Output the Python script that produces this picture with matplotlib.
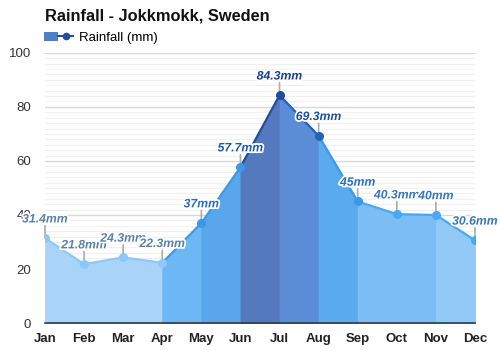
import matplotlib
matplotlib.use('Agg')
import matplotlib.pyplot as plt
import matplotlib.patheffects as pe
from matplotlib.patches import Patch
from matplotlib.lines import Line2D
from matplotlib.legend_handler import HandlerTuple
import numpy as np

# datos
meses = ['Jan', 'Feb', 'Mar', 'Apr', 'May', 'Jun', 'Jul', 'Aug', 'Sep', 'Oct', 'Nov', 'Dec']
lluvia = [31.4, 21.8, 24.3, 22.3, 37, 57.7, 84.3, 69.3, 45, 40.3, 40, 30.6]
etiquetas = ['31.4mm', '21.8mm', '24.3mm', '22.3mm', '37mm', '57.7mm', '84.3mm',
             '69.3mm', '45mm', '40.3mm', '40mm', '30.6mm']

# colores por tramo (tramo i va de mes i a mes i+1)
relleno = ['#a9d4f8', '#a9d4f8', '#a9d4f8', '#6db7f4', '#5aa6ec', '#5479be',
           '#5b8dd6', '#5aaaf0', '#7dbdf5', '#7dbdf5', '#91c9f7']
linea = ['#8cc8f8', '#8cc8f8', '#8cc8f8', '#3a9ae8', '#3a9ae8', '#1f4e9e',
         '#2462b8', '#3a9ae8', '#4aa8f0', '#4aa8f0', '#4aa8f0']
puntos = ['#8cc8f8', '#8cc8f8', '#8cc8f8', '#8cc8f8', '#3a9ae8', '#3a9ae8',
          '#1f4e9e', '#2462b8', '#3a9ae8', '#4aa8f0', '#4aa8f0', '#4aa8f0']
col_txt = ['#5b80a8', '#5b80a8', '#5b80a8', '#5b80a8', '#2d6db5', '#1f5ca8',
           '#1a3f8f', '#1f4e9e', '#2d6db5', '#3a75b5', '#3a75b5', '#3a75b5']

plt.rcParams['font.family'] = ['Liberation Sans', 'DejaVu Sans']

fig = plt.figure(figsize=(5, 3.5), dpi=100)
ax = fig.add_axes([0.09, 0.077, 0.86, 0.772])

x = np.arange(len(meses))

# relleno y linea por tramos
for i in range(len(meses) - 1):
    ax.fill_between(x[i:i + 2], lluvia[i:i + 2], 0, facecolor=relleno[i],
                    edgecolor=relleno[i], lw=0.6, zorder=2)
    ax.plot(x[i:i + 2], lluvia[i:i + 2], color=linea[i], lw=1.6, zorder=3,
            solid_capstyle='round')

# puntos, marcas y etiquetas
for i in range(len(meses)):
    ax.plot(x[i], lluvia[i], 'o', color=puntos[i], ms=5.5, zorder=5)
    ax.annotate('', xy=(x[i], lluvia[i]), xytext=(0, 9), textcoords='offset points',
                arrowprops=dict(arrowstyle='-', color='#aaaaaa', lw=1.2,
                                shrinkA=0, shrinkB=0), zorder=4)
    ax.annotate(etiquetas[i], xy=(x[i], lluvia[i]), xytext=(0, 13.5),
                textcoords='offset points', ha='center', va='center',
                fontsize=8.8, fontweight='bold', fontstyle='italic',
                color=col_txt[i], zorder=6, annotation_clip=False,
                path_effects=[pe.withStroke(linewidth=2.5, foreground='white')])

# ejes
ax.set_xlim(0, 11)
ax.set_ylim(0, 100)
ax.set_xticks(x)
ax.set_xticklabels(meses, fontweight='bold', fontsize=9.5, color='#222222')
ax.set_yticks(np.arange(0, 101, 20))
ax.set_yticks(np.arange(0, 101, 2), minor=True)
ax.tick_params(axis='y', which='both', length=0, pad=10, labelsize=9.5, labelcolor='#333333')
ax.tick_params(axis='x', length=0, pad=7)
ax.grid(axis='y', which='major', color='#d8d8d8', lw=1, zorder=0)
ax.grid(axis='y', which='minor', color='#f0f0f0', lw=0.8, zorder=0)
ax.set_axisbelow(True)
for lado in ['top', 'right', 'left']:
    ax.spines[lado].set_visible(False)
ax.spines['bottom'].set_color('#2f3b4c')
ax.spines['bottom'].set_linewidth(1.2)
ax.spines['bottom'].set_zorder(7)

# titulo y leyenda
fig.text(0.09, 0.953, 'Rainfall - Jokkmokk, Sweden', fontsize=11.8, fontweight='bold',
         ha='left', va='center', color='#111111')
h = (Patch(facecolor='#4f7fc8', edgecolor='none'),
     Line2D([], [], color='#1f4e9e', lw=1.5, marker='o', ms=4.5))
fig.legend([h], ['Rainfall (mm)'], handler_map={tuple: HandlerTuple(ndivide=None, pad=0)},
           loc='center left', bbox_to_anchor=(0.077, 0.892), frameon=False,
           fontsize=9.5, handlelength=2.2, handletextpad=0.5, borderaxespad=0)

plt.savefig('out.png', dpi=100)
